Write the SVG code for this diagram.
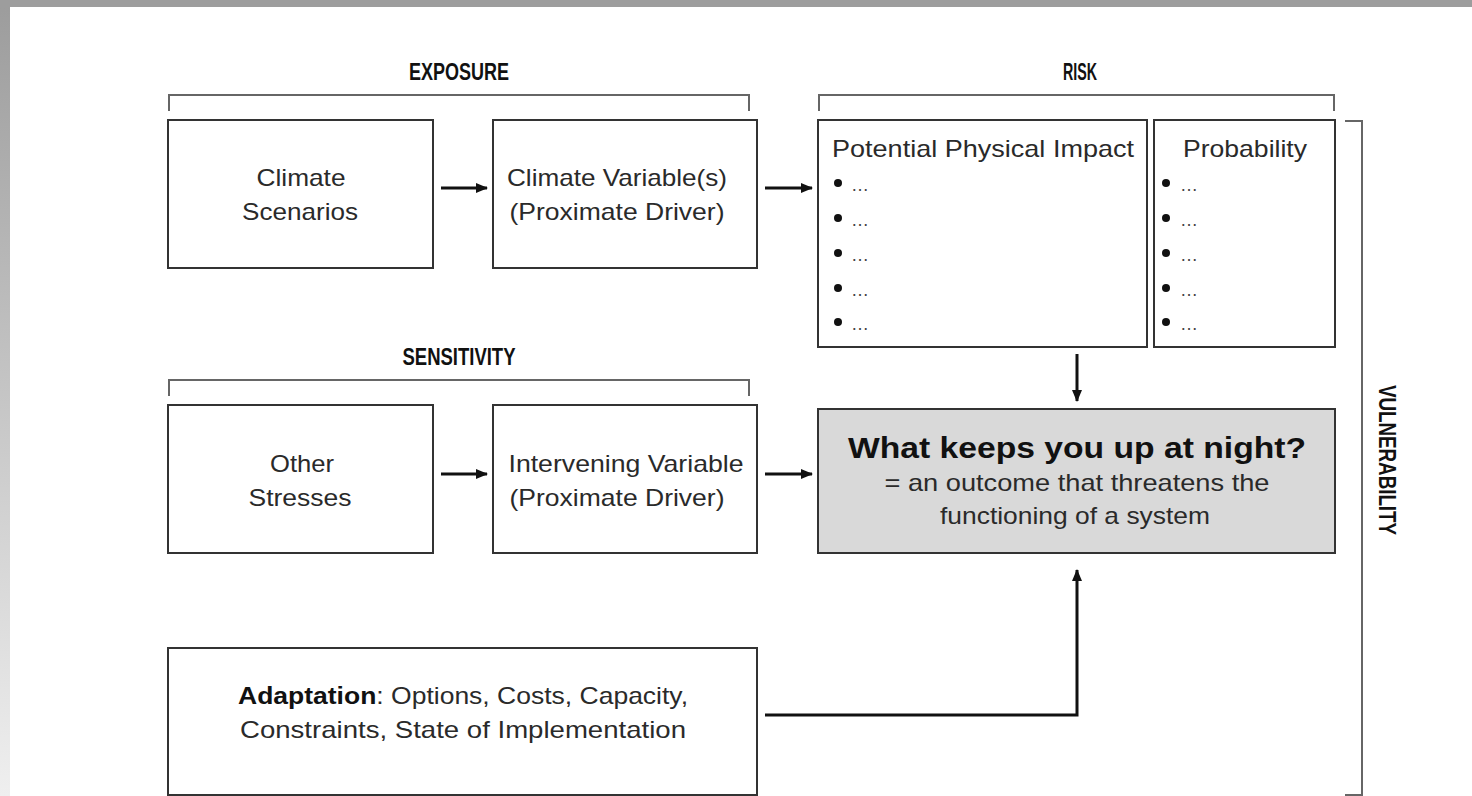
<svg xmlns="http://www.w3.org/2000/svg" width="1472" height="796" viewBox="0 0 1472 796">
<defs>
<linearGradient id="lg" x1="0" y1="0" x2="0" y2="1">
<stop offset="0" stop-color="#9c9c9c"/>
<stop offset="1" stop-color="#efefef"/>
</linearGradient>
<marker id="ah" markerWidth="12" markerHeight="12" viewBox="0 0 12 12" refX="11" refY="6" orient="auto" markerUnits="userSpaceOnUse">
<path d="M0,1 L12,6 L0,11 Z" fill="#111"/>
</marker>
<style>
.box{fill:#fff;stroke:#333;stroke-width:2}
.grey{fill:#d9d9d9;stroke:#333;stroke-width:2}
.br{fill:none;stroke:#666;stroke-width:2}
.t{font-family:"Liberation Sans",Arial,sans-serif;font-size:24px;fill:#2a2a2a;text-anchor:middle}
.tl{font-family:"Liberation Sans",Arial,sans-serif;font-size:24px;fill:#2a2a2a}
.h{font-family:"Liberation Sans",Arial,sans-serif;font-size:24px;font-weight:bold;fill:#111;text-anchor:middle}
.b{font-family:"Liberation Sans",Arial,sans-serif;font-weight:bold;fill:#111}
.el{font-family:"Liberation Sans",Arial,sans-serif;font-size:18px;fill:#444}
.con{fill:none;stroke:#111;stroke-width:3}
</style>
</defs>
<rect x="0" y="0" width="1472" height="796" fill="#fff"/>
<rect x="0" y="0" width="10" height="796" fill="url(#lg)"/>
<rect x="0" y="0" width="1472" height="7" fill="#9d9d9d"/>

<g id="labels">
<text class="h" x="459" y="80" textLength="100" lengthAdjust="spacingAndGlyphs">EXPOSURE</text>
<text class="h" x="1080" y="80" textLength="34" lengthAdjust="spacingAndGlyphs">RISK</text>
<text class="h" x="459" y="365" textLength="113" lengthAdjust="spacingAndGlyphs">SENSITIVITY</text>
<text class="h" transform="translate(1379,460) rotate(90)" x="0" y="0" textLength="150" lengthAdjust="spacingAndGlyphs">VULNERABILITY</text>
</g>

<g id="brackets">
<path class="br" d="M169,111 V95 H749 V111"/>
<path class="br" d="M819,111 V95 H1334 V111"/>
<path class="br" d="M169,396 V380 H749 V396"/>
<path class="br" d="M1345,121 H1362 V795 H1345"/>
</g>

<g id="climate-scenarios">
<rect class="box" x="168" y="120" width="265" height="148"/>
<text class="t" x="301" y="186" textLength="89" lengthAdjust="spacingAndGlyphs">Climate</text>
<text class="t" x="300" y="220" textLength="116" lengthAdjust="spacingAndGlyphs">Scenarios</text>
</g>

<g id="climate-variables">
<rect class="box" x="493" y="120" width="264" height="148"/>
<text class="t" x="617" y="186" textLength="220" lengthAdjust="spacingAndGlyphs">Climate Variable(s)</text>
<text class="t" x="617" y="220" textLength="215" lengthAdjust="spacingAndGlyphs">(Proximate Driver)</text>
</g>

<g id="impact">
<rect class="box" x="818" y="120" width="329" height="227"/>
<text class="tl" x="832" y="157" textLength="302" lengthAdjust="spacingAndGlyphs">Potential Physical Impact</text>
<g fill="#111">
<circle cx="838" cy="183" r="4"/><circle cx="838" cy="218" r="4"/><circle cx="838" cy="253" r="4"/><circle cx="838" cy="288" r="4"/><circle cx="838" cy="322" r="4"/>
</g>
<text class="el" x="851" y="191">…</text>
<text class="el" x="851" y="226">…</text>
<text class="el" x="851" y="261">…</text>
<text class="el" x="851" y="296">…</text>
<text class="el" x="851" y="330">…</text>
</g>

<g id="probability">
<rect class="box" x="1154" y="120" width="181" height="227"/>
<text class="t" x="1245" y="157" textLength="124" lengthAdjust="spacingAndGlyphs">Probability</text>
<g fill="#111">
<circle cx="1166" cy="183" r="4"/><circle cx="1166" cy="218" r="4"/><circle cx="1166" cy="253" r="4"/><circle cx="1166" cy="288" r="4"/><circle cx="1166" cy="322" r="4"/>
</g>
<text class="el" x="1180" y="191">…</text>
<text class="el" x="1180" y="226">…</text>
<text class="el" x="1180" y="261">…</text>
<text class="el" x="1180" y="296">…</text>
<text class="el" x="1180" y="330">…</text>
</g>

<g id="other-stresses">
<rect class="box" x="168" y="405" width="265" height="148"/>
<text class="t" x="302" y="472" textLength="64" lengthAdjust="spacingAndGlyphs">Other</text>
<text class="t" x="300" y="506" textLength="103" lengthAdjust="spacingAndGlyphs">Stresses</text>
</g>

<g id="intervening">
<rect class="box" x="493" y="405" width="264" height="148"/>
<text class="t" x="626" y="472" textLength="235" lengthAdjust="spacingAndGlyphs">Intervening Variable</text>
<text class="t" x="617" y="506" textLength="215" lengthAdjust="spacingAndGlyphs">(Proximate Driver)</text>
</g>

<g id="outcome">
<rect class="grey" x="818" y="409" width="517" height="144"/>
<text class="b" x="1077" y="458" font-size="29" text-anchor="middle" textLength="458" lengthAdjust="spacingAndGlyphs">What keeps you up at night?</text>
<text class="t" x="1077" y="491" textLength="385" lengthAdjust="spacingAndGlyphs">= an outcome that threatens the</text>
<text class="t" x="1075" y="524" textLength="270" lengthAdjust="spacingAndGlyphs">functioning of a system</text>
</g>

<g id="adaptation">
<rect class="box" x="168" y="648" width="589" height="147"/>
<text class="tl" x="238" y="704" textLength="450" lengthAdjust="spacingAndGlyphs"><tspan font-weight="bold" fill="#111">Adaptation</tspan>: Options, Costs, Capacity,</text>
<text class="t" x="463" y="738" textLength="446" lengthAdjust="spacingAndGlyphs">Constraints, State of Implementation</text>
</g>

<g id="connectors">
<line class="con" x1="441" y1="188" x2="487" y2="188" marker-end="url(#ah)"/>
<line class="con" x1="765" y1="188" x2="812" y2="188" marker-end="url(#ah)"/>
<line class="con" x1="441" y1="474" x2="487" y2="474" marker-end="url(#ah)"/>
<line class="con" x1="765" y1="474" x2="812" y2="474" marker-end="url(#ah)"/>
<line class="con" x1="1077" y1="354" x2="1077" y2="401" marker-end="url(#ah)"/>
<path class="con" d="M765,715 H1077 V570" stroke-width="2.5" marker-end="url(#ah)"/>
</g>
</svg>
